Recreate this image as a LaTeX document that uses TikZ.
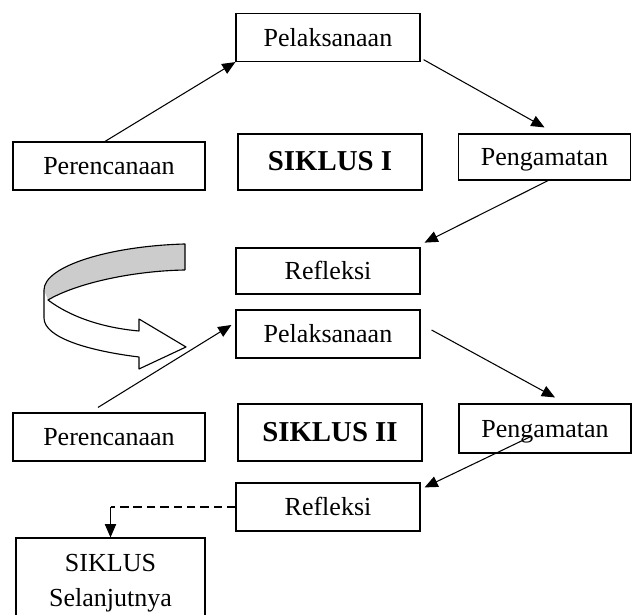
\documentclass[tikz,border=0pt]{standalone}
\usepackage{fontspec}
\setmainfont{Liberation Serif}
\usetikzlibrary{arrows.meta}
\tikzset{
  kotak/.style={draw,line width=0.8pt,inner sep=0pt,minimum width=4.6cm,minimum height=1.2cm,align=center,text height=12.6pt,text depth=0pt,font=\fontsize{18.5}{25}\selectfont},
  judul/.style={kotak,minimum height=1.4cm,font=\fontsize{20.5}{25}\selectfont\bfseries},
  panah/.style={-{Triangle[length=3.3mm,width=2.8mm]},line width=0.75pt}
}

\begin{document}
\begin{tikzpicture}[x=0.025cm,y=-0.025cm]
\useasboundingbox (0,0) rectangle (634,615);
% siklus I
\node[kotak] (pel1) at (328,37.5) {Pelaksanaan};
\node[kotak,minimum width=4.8cm] (per1) at (109,166) {Perencanaan};
\node[judul] (sik1) at (330,162) {SIKLUS I};
\node[kotak,minimum width=4.3cm,minimum height=1.15cm] (peng1) at (544.5,157) {Pengamatan};
\node[kotak,minimum height=1.15cm] (ref1) at (328,271) {Refleksi};
\draw[panah] ([xshift=-0.1cm]per1.north) -- (pel1.south west);
\draw[panah] ([xshift=0.075cm,yshift=0.06cm]pel1.south east) -- ([yshift=0.15cm]peng1.north);
\draw[panah] ([xshift=0.09cm]peng1.south) -- ([xshift=0.1cm,yshift=0.12cm]ref1.north east);
% panah lengkung
\fill[gray!40] (185,244) .. controls (110,246) and (44,266) .. (44,290) -- (48,300) .. controls (75,284) and (130,271) .. (185,270) -- cycle;
\draw[line width=0.8pt,line join=round] (185,270) -- (185,244) .. controls (110,246) and (44,266) .. (44,290)
  -- (44,318) .. controls (44,338) and (90,351) .. (139,357) -- (139,369) -- (186,347) -- (139,319) -- (139,331)
  .. controls (105,328) and (72,318) .. (48,300) .. controls (75,284) and (130,271) .. (185,270);
% siklus II
\node[kotak] (pel2) at (328,334) {Pelaksanaan};
\node[kotak,minimum width=4.8cm] (per2) at (109,437) {Perencanaan};
\node[judul,minimum height=1.425cm] (sik2) at (330,432.5) {SIKLUS II};
\node[kotak,minimum width=4.3cm,minimum height=1.225cm] (peng2) at (545,428.5) {Pengamatan};
\node[kotak] (ref2) at (328,507) {Refleksi};
\node[kotak,text height=,text depth=,minimum width=4.725cm,minimum height=2.25cm] (lanjut) at (110.5,583) {SIKLUS\\Selanjutnya};
\draw[panah] ([xshift=-0.275cm,yshift=0.125cm]per2.north) -- ([xshift=-0.1cm,yshift=0.225cm]pel2.west);
\draw[panah] ([xshift=0.275cm,yshift=0.1cm]pel2.east) -- ([xshift=0.25cm,yshift=0.15cm]peng2.north);
\draw[panah] ([xshift=-0.375cm,yshift=-0.21cm]peng2.center) -- ([xshift=0.1cm,yshift=-0.125cm]ref2.north east);
\coordinate (belok) at (lanjut.north |- ref2.west);
\draw[line width=0.75pt,dash pattern=on 6pt off 3.5pt] (ref2.west) -- (belok);
\draw[panah] (belok) -- (lanjut.north);
\end{tikzpicture}
\end{document}
